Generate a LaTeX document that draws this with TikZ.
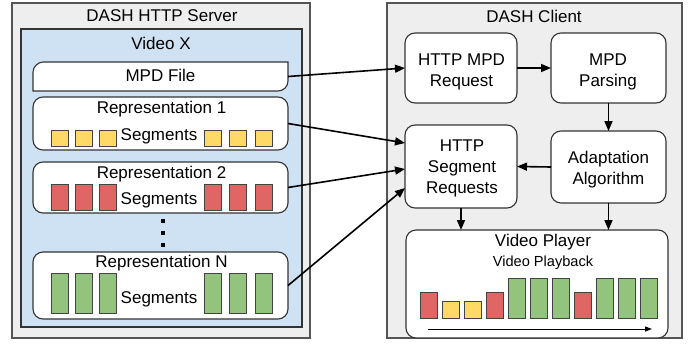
\documentclass[tikz,border=0pt]{standalone}
\usepackage{fontspec}
\setmainfont{Liberation Sans}
\usetikzlibrary{arrows.meta}
\definecolor{outerfill}{HTML}{EEEEEE}
\definecolor{outeredge}{HTML}{555555}
\definecolor{bluefill}{HTML}{CFE2F3}
\definecolor{boxedge}{HTML}{333333}
\definecolor{segyellow}{HTML}{FFD966}
\definecolor{segred}{HTML}{E06666}
\definecolor{seggreen}{HTML}{93C47D}
\definecolor{segedge}{HTML}{434343}
\begin{document}
\begin{tikzpicture}[x=1pt,y=-1pt,
  outerbox/.style={draw=outeredge,fill=outerfill,line width=1.1pt},
  bluebox/.style={draw=boxedge,fill=bluefill,line width=1.1pt},
  whitebox/.style={draw=boxedge,fill=white,line width=1.1pt,rounded corners=10pt,inner sep=0pt,outer sep=0pt},
  anchorbox/.style={inner sep=0pt,outer sep=0pt},
  lbl/.style={font=\fontsize{17}{21}\selectfont,anchor=base,inner sep=0pt},
  smalllbl/.style={font=\fontsize{14.6}{18}\selectfont,anchor=base,inner sep=0pt},
  seg/.style={draw=segedge,line width=0.9pt},
  conn/.style={draw=black,line width=1.6pt,-{Triangle[length=10pt,width=8pt]}},
  timeline/.style={draw=black,line width=1pt,-{Triangle[length=7pt,width=5pt]}}
]
\useasboundingbox (0,0) rectangle (695,343);

% ---------------- Server side ----------------
\draw[outerbox] (12,3) rectangle (310,338);
\node[lbl] (servertitle) at (162,21.5) {DASH HTTP Server};
\draw[bluebox] (21,29) rectangle (302,327);
\node[lbl] (videox) at (161,49) {Video X};

% MPD file (two rounded corners)
\node[anchorbox,minimum width=255pt,minimum height=29pt] (mpd) at (160.5,76.5) {};
\draw[draw=boxedge,fill=white,line width=1.1pt]
  (33,91) -- (33,72) .. controls (33,66.5) and (38.5,62) .. (43,62) -- (288,62)
  -- (288,81) .. controls (288,86.5) and (283.5,91) .. (278,91) -- cycle;
\node[lbl] (mpdlbl) at (160.5,81.7) {MPD File};

% Representation boxes
\node[whitebox,minimum width=255pt,minimum height=53pt] (rep1) at (160.5,123.5) {};
\node[whitebox,minimum width=255pt,minimum height=51pt] (rep2) at (160.5,187.5) {};
\node[whitebox,minimum width=255pt,minimum height=67pt] (repn) at (160.5,285.5) {};

\node[lbl] (rep1lbl) at (161.5,113.8) {Representation 1};
\node[lbl] (rep2lbl) at (161.5,178.3) {Representation 2};
\node[lbl] (repnlbl) at (161.5,267.7) {Representation N};

\node[lbl] (seg1lbl) at (159,140) {Segments};
\node[lbl] (seg2lbl) at (159,204.3) {Segments};
\node[lbl] (segnlbl) at (159,303.3) {Segments};

\foreach \x in {51,75,99,204,229,255} {
  \draw[seg,fill=segyellow] (\x,130.5) rectangle ++(17,15.5);
  \draw[seg,fill=segred] (\x,184) rectangle ++(17,26);
  \draw[seg,fill=seggreen] (\x,273) rectangle ++(17,40);
}

% vertical dots
\foreach \y in {221,233,245} {
  \fill[black] (160.8,\y-2.3) rectangle ++(4.5,4.6);
}

% ---------------- Client side ----------------
\draw[outerbox] (387,3) rectangle (682,338);
\node[lbl] (clienttitle) at (534,22) {DASH Client};

\node[whitebox,minimum width=112pt,minimum height=70pt] (req) at (461,68) {};
\node[lbl] at (461.5,65) {HTTP MPD};
\node[lbl] at (461.5,86) {Request};

\node[whitebox,minimum width=115pt,minimum height=70pt] (parse) at (608.5,68) {};
\node[lbl] at (608,65) {MPD};
\node[lbl] at (608,86) {Parsing};

\node[whitebox,minimum width=112pt,minimum height=83pt] (segreq) at (461,166.5) {};
\node[lbl] at (462,151.7) {HTTP};
\node[lbl] at (462,172.8) {Segment};
\node[lbl] at (462,193.5) {Requests};

\node[whitebox,minimum width=115pt,minimum height=72pt] (adapt) at (608.5,167) {};
\node[lbl] at (608.5,163.3) {Adaptation};
\node[lbl] at (608.5,184) {Algorithm};

\node[whitebox,minimum width=262pt,minimum height=108pt] (player) at (537,284) {};
\node[lbl] (playerlbl) at (543,246) {Video Player};
\node[smalllbl] (playbacklbl) at (543,266.7) {Video Playback};

% playback bars
\foreach \x/\t/\c in {420/292/segred,442/301/segyellow,464/301/segyellow,486/292/segred,
  508/278/seggreen,530/278/seggreen,552/278/seggreen,574/292/segred,
  596/278/seggreen,618/278/seggreen,640/278/seggreen} {
  \draw[seg,fill=\c] (\x,\t) rectangle (\x+17.5,318);
}
\coordinate (tl0) at (428,329);
\coordinate (tl1) at (652,329);
\draw[timeline] (tl0) -- (tl1);

% ---------------- Connectors ----------------
\draw[conn] (mpd.east) -- (req.west);
\draw[conn] (req.east) -- (parse.west);
\draw[conn] (parse.south) -- (adapt.north);
\draw[conn] (adapt.west) -- (segreq.east);
\draw[conn] (segreq.south) -- (segreq.south |- player.north);
\draw[conn] (adapt.south) -- (adapt.south |- player.north);
\draw[conn] (rep1.east) -- ([yshift=23.5pt]segreq.west);
\draw[conn] (rep2.east) -- ([yshift=-2.5pt]segreq.west);
\draw[conn] (repn.east) -- ([yshift=-21.5pt]segreq.west);
\end{tikzpicture}
\end{document}
